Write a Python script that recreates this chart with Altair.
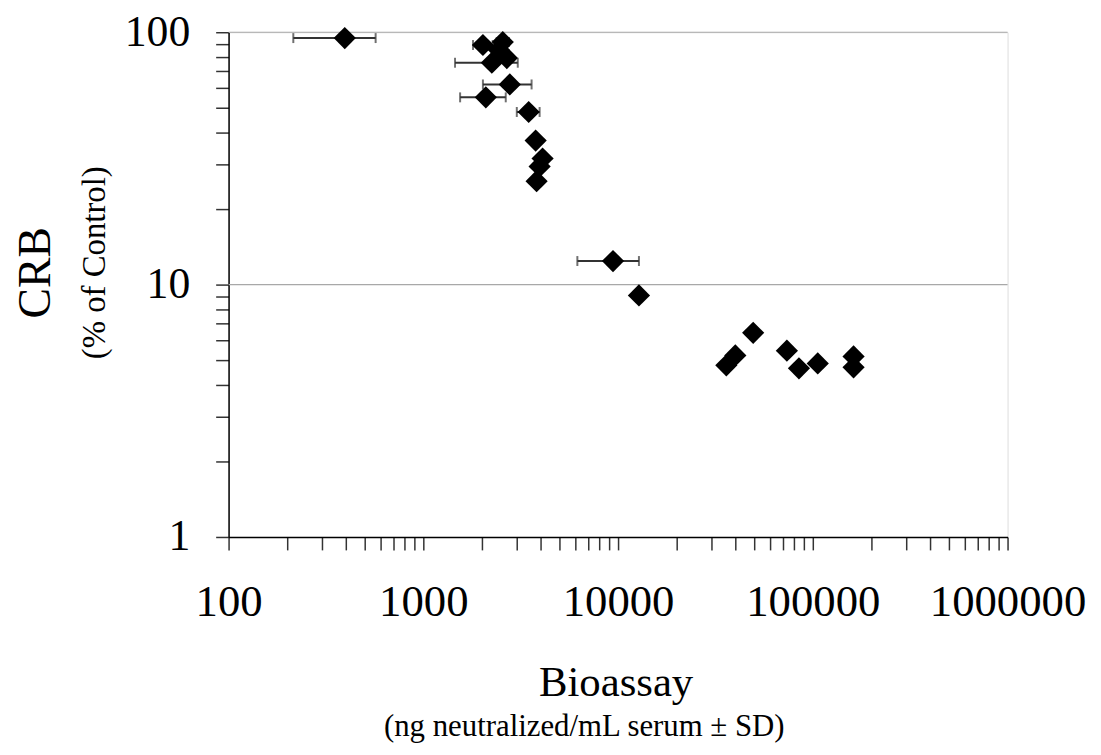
import altair as alt
import pandas as pd

# ---- data ----
bio = [395, 2023, 2558, 2443, 2685, 2248, 2780, 2094, 3476, 3774, 4096, 3955, 3817,
       9420, 12800, 35970, 40000, 49400, 73600, 84900, 106000, 161900, 161900]
crb = [94.8, 89, 91.4, 85, 79, 75.7, 62.1, 55.2, 48.3, 37.2, 31.6, 29.4, 25.7,
       12.4, 9.06, 4.79, 5.24, 6.44, 5.47, 4.66, 4.87, 5.19, 4.70]

# horizontal SD bars (only the ones visible in the figure)
err_y = [94.8, 89, 91.4, 75.7, 62.1, 55.2, 48.3, 12.4]
err_lo = [215, 1800, 2380, 1455, 2023, 1545, 3020, 6180]
err_hi = [569, 2270, 2750, 3055, 3597, 2650, 3955, 12800]

x_major = [100, 1000, 10000, 100000, 1000000]
x_ticks = [100, 200, 300, 400, 500, 600, 700, 800, 900,
           1000, 2000, 3000, 4000, 5000, 6000, 7000, 8000, 9000,
           10000, 20000, 30000, 40000, 50000, 60000, 70000, 80000, 90000,
           100000, 200000, 300000, 400000, 500000, 600000, 700000, 800000, 900000,
           1000000]
y_major = [1, 10, 100]
y_ticks = [1, 2, 3, 4, 5, 6, 7, 8, 9, 10, 20, 30, 40, 50, 60, 70, 80, 90, 100]
grid_y = [10, 100]

pts = pd.DataFrame({"x": bio, "y": crb})
errs = pd.DataFrame({"y": err_y, "lo": err_lo, "hi": err_hi})
grid = pd.DataFrame({"y": grid_y})

FONT = "Liberation Serif"

xscale = alt.Scale(type="log", domain=[100, 1000000], nice=False)
yscale = alt.Scale(type="log", domain=[1, 100], nice=False)

xaxis = alt.Axis(
    values=x_ticks, title=None, grid=False,
    labelExpr="indexof(" + str(x_major) + ", datum.value) >= 0 ? format(datum.value, 'd') : ''",
    labelFont=FONT, labelFontSize=45, labelColor="black", labelPadding=30,
    labelOverlap=False, labelFlush=False,
    tickSize=13, tickColor="#333333", tickWidth=1.5,
    domainColor="black", domainWidth=1.5,
)
yaxis = alt.Axis(
    values=y_ticks, title=None, grid=False,
    labelExpr="indexof(" + str(y_major) + ", datum.value) >= 0 ? format(datum.value, 'd') : ''",
    labelFont=FONT, labelFontSize=44, labelColor="black", labelPadding=26,
    labelOverlap=False, labelFlush=False, labelBaseline="middle",
    tickSize=13, tickColor="#333333", tickWidth=1.5,
    domainColor="black", domainWidth=1.5,
)

gridlines = alt.Chart(grid).mark_rule(color="#a8a8a8", strokeWidth=1.2).encode(
    y=alt.Y("y:Q", scale=yscale, axis=yaxis)
)

bars = alt.Chart(errs).mark_rule(color="#333333", strokeWidth=2).encode(
    x=alt.X("lo:Q", scale=xscale, axis=xaxis),
    x2="hi:Q",
    y=alt.Y("y:Q", scale=yscale, axis=yaxis),
)
cap_lo = alt.Chart(errs).mark_tick(color="#333333", orient="vertical", size=10, thickness=2).encode(
    x=alt.X("lo:Q", scale=xscale, axis=xaxis),
    y=alt.Y("y:Q", scale=yscale, axis=yaxis),
)
cap_hi = alt.Chart(errs).mark_tick(color="#333333", orient="vertical", size=10, thickness=2).encode(
    x=alt.X("hi:Q", scale=xscale, axis=xaxis),
    y=alt.Y("y:Q", scale=yscale, axis=yaxis),
)

points = alt.Chart(pts).mark_point(shape="diamond", filled=True, size=500,
                                   color="black", opacity=1, strokeWidth=0).encode(
    x=alt.X("x:Q", scale=xscale, axis=xaxis),
    y=alt.Y("y:Q", scale=yscale, axis=yaxis),
)

one = alt.Data(values=[{}])
t_crb = alt.Chart(one).mark_text(text="CRB", font=FONT, fontSize=46, angle=270,
                                 align="center", baseline="middle", color="black").encode(
    x=alt.value(-194), y=alt.value(242))
t_crb2 = alt.Chart(one).mark_text(text="(% of Control)", font=FONT, fontSize=33, angle=270,
                                  align="center", baseline="middle", color="black").encode(
    x=alt.value(-134), y=alt.value(232))
t_bio = alt.Chart(one).mark_text(text="Bioassay", font=FONT, fontSize=43,
                                 align="center", baseline="alphabetic", color="black").encode(
    x=alt.value(390), y=alt.value(668))
t_bio2 = alt.Chart(one).mark_text(text="(ng neutralized/mL serum \u00b1 SD)", font=FONT, fontSize=31,
                                  align="center", baseline="alphabetic", color="black").encode(
    x=alt.value(358), y=alt.value(708))

chart = alt.layer(
    gridlines, bars, cap_lo, cap_hi, points, t_crb, t_crb2, t_bio, t_bio2
).properties(
    width=784, height=508,
    autosize=alt.AutoSizeParams(type="none"),
    padding={"left": 222, "top": 22, "right": 86, "bottom": 209},
).configure_view(stroke=None).configure(background="white")

chart.save("out.html", embed_options={"renderer": "svg", "actions": False})
